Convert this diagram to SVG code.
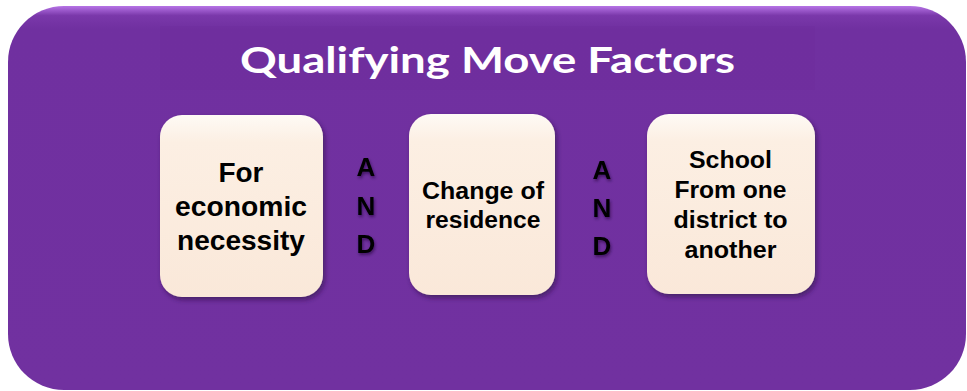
<svg xmlns="http://www.w3.org/2000/svg" width="967" height="391" viewBox="0 0 967 391">
<defs>
<linearGradient id="bg" x1="0" y1="0" x2="0" y2="1">
<stop offset="0" stop-color="#b673e6"/>
<stop offset="0.025" stop-color="#7a38aa"/>
<stop offset="0.06" stop-color="#7030a0"/>
<stop offset="1" stop-color="#7131a0"/>
</linearGradient>
<linearGradient id="box" x1="0" y1="0" x2="0" y2="1">
<stop offset="0" stop-color="#fefaf5"/>
<stop offset="0.15" stop-color="#fcefe3"/>
<stop offset="1" stop-color="#fae8d9"/>
</linearGradient>
<filter id="sh" x="-20%" y="-20%" width="140%" height="140%">
<feDropShadow dx="2" dy="3" stdDeviation="2.5" flood-color="#2a0a45" flood-opacity="0.6"/>
</filter>
<filter id="tsh" x="-50%" y="-50%" width="200%" height="200%">
<feDropShadow dx="1" dy="2" stdDeviation="1.5" flood-color="#200535" flood-opacity="0.6"/>
</filter>
<clipPath id="titleClip"><rect x="150" y="20" width="680" height="60"/></clipPath>
</defs>
<style>
.box{fill:url(#box);filter:url(#sh)}
.lbl{font-family:"Liberation Sans",Arial,sans-serif;font-weight:bold;fill:#000;text-anchor:middle}
.and{font-family:"Liberation Sans",Arial,sans-serif;font-weight:bold;font-size:26px;fill:#000;text-anchor:middle;filter:url(#tsh)}
.title{font-family:"Lato","Open Sans",sans-serif;font-weight:bold;font-size:37px;fill:#fff}
</style>
<g id="background">
<rect x="8" y="6" width="958" height="384" rx="56" ry="56" fill="url(#bg)"/>
<rect x="160" y="26" width="655" height="64" fill="#6c2c9b" opacity="0.3"/>
</g>
<g id="title">
<text class="title" x="240" y="73" textLength="495" lengthAdjust="spacingAndGlyphs" clip-path="url(#titleClip)">Qualifying Move Factors</text>
</g>
<g id="node1">
<rect class="box" x="160" y="115" width="163" height="182" rx="22"/>
<text class="lbl" font-size="27" x="241" y="182" textLength="45" lengthAdjust="spacingAndGlyphs">For</text>
<text class="lbl" font-size="27" x="241" y="216" textLength="132" lengthAdjust="spacingAndGlyphs">economic</text>
<text class="lbl" font-size="27" x="241" y="250" textLength="128" lengthAdjust="spacingAndGlyphs">necessity</text>
</g>
<g id="node2">
<rect class="box" x="409" y="114" width="146" height="181" rx="22"/>
<text class="lbl" font-size="23" x="483" y="199" textLength="122" lengthAdjust="spacingAndGlyphs">Change of</text>
<text class="lbl" font-size="23" x="483" y="228" textLength="115" lengthAdjust="spacingAndGlyphs">residence</text>
</g>
<g id="node3">
<rect class="box" x="647" y="114" width="168" height="180" rx="22"/>
<text class="lbl" font-size="23" x="730.5" y="168" textLength="83" lengthAdjust="spacingAndGlyphs">School</text>
<text class="lbl" font-size="23" x="730.5" y="198" textLength="112" lengthAdjust="spacingAndGlyphs">From one</text>
<text class="lbl" font-size="23" x="730.5" y="228" textLength="114" lengthAdjust="spacingAndGlyphs">district to</text>
<text class="lbl" font-size="23" x="730.5" y="258" textLength="92" lengthAdjust="spacingAndGlyphs">another</text>
</g>
<g id="connectors">
<g id="and1">
<text class="and" x="366" y="176">A</text>
<text class="and" x="366" y="215">N</text>
<text class="and" x="366" y="253">D</text>
</g>
<g id="and2">
<text class="and" x="602" y="179">A</text>
<text class="and" x="602" y="217">N</text>
<text class="and" x="602" y="255">D</text>
</g>
</g>
</svg>
